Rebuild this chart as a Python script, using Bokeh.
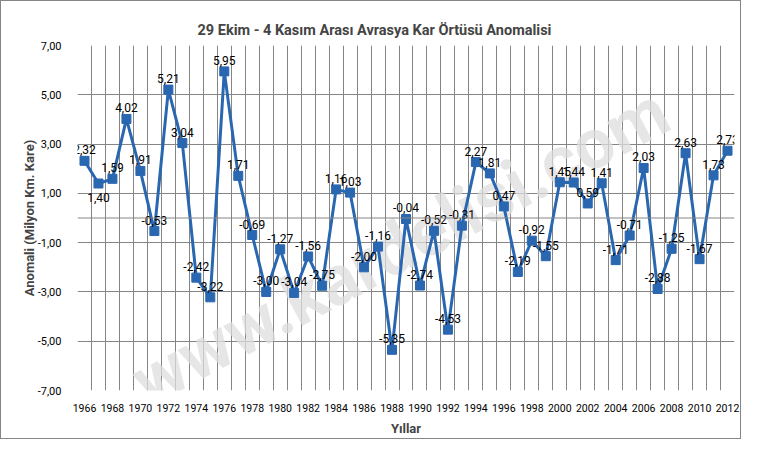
from bokeh.plotting import figure
from bokeh.models import FixedTicker, ColumnDataSource, Span
from bokeh.core.properties import value
from bokeh.embed import file_html
from bokeh.resources import INLINE
import math

title_text = "29 Ekim - 4 Kasım Arası Avrasya Kar Örtüsü Anomalisi"
years = list(range(1966, 2013))
anomaly = [2.32, 1.40, 1.59, 4.02, 1.91, -0.53, 5.21, 3.04, -2.42, -3.22,
           5.95, 1.71, -0.69, -3.00, -1.27, -3.04, -1.56, -2.75, 1.16, 1.03,
           -2.00, -1.16, -5.35, -0.04, -2.74, -0.52, -4.53, -0.31, 2.27, 1.81,
           0.47, -2.19, -0.92, -1.55, 1.45, 1.44, 0.59, 1.41, -1.71, -0.71,
           2.03, -2.88, -1.25, 2.63, -1.67, 1.73, 2.73]
y_ticks = [-7, -5, -3, -1, 1, 3, 5, 7]
y_tick_labels = ["-7,00", "-5,00", "-3,00", "-1,00", "1,00", "3,00", "5,00", "7,00"]
x_tick_years = years[::2]
labels_below = [1967]

FONT = "Roboto"
idx = list(range(len(years)))
lbl = [f"{v:.2f}".replace(".", ",") for v in anomaly]
offs = [14 if y in labels_below else -11 for y in years]
src = ColumnDataSource(dict(x=idx, y=anomaly, lbl=lbl, off=offs))

p = figure(width=741, height=439, output_backend="svg", toolbar_location=None,
           x_range=(-0.5, len(years) - 0.5), y_range=(-7, 7),
           min_border_left=76, min_border_right=8, min_border_top=44, min_border_bottom=50,
           title=title_text)
p.styles = {"border": "1px solid #868686"}
p.title.align = "left"
p.title.offset = 120
p.title.vertical_align = "top"
p.title.standoff = 10
p.title.text_font = FONT
p.title.text_font_size = "14.5px"
p.title.text_font_style = "bold"
p.outline_line_color = None
p.background_fill_color = "white"

# grids
p.xgrid.ticker = FixedTicker(ticks=[i - 0.5 for i in range(len(years) + 1)])
p.ygrid.ticker = FixedTicker(ticks=y_ticks)
for g in (p.xgrid, p.ygrid):
    g.grid_line_color = "#858585"
    g.grid_line_width = 1
p.add_layout(Span(location=0, dimension="width", line_color="#858585", line_width=1))

# axes
p.xaxis.ticker = FixedTicker(ticks=[years.index(y) for y in x_tick_years])
p.xaxis.major_label_overrides = {years.index(y): str(y) for y in x_tick_years}
p.yaxis.ticker = FixedTicker(ticks=y_ticks)
p.yaxis.major_label_overrides = {t: l for t, l in zip(y_ticks, y_tick_labels)}
for ax in (p.xaxis, p.yaxis):
    ax.axis_line_color = None
    ax.major_tick_line_color = None
    ax.minor_tick_line_color = None
    ax.major_label_text_font = FONT
    ax.major_label_text_color = "black"
    ax.axis_label_text_font = FONT
    ax.axis_label_text_font_style = "bold"
    ax.axis_label_text_font_size = "13px"
p.xaxis.major_label_text_font_size = "10.5px"
p.yaxis.major_label_text_font_size = "11px"
p.xaxis.major_label_standoff = 7
p.yaxis.major_label_standoff = 10
p.xaxis.axis_label = "Yıllar"
p.yaxis.axis_label = "Anomali (Milyon Km. Kare)"
p.xaxis.axis_label_standoff = 6
p.yaxis.axis_label_standoff = -2

# watermark
p.text(x=[22.6], y=[-1.15], text=["www.kardelisi.com"], angle=math.radians(28),
       text_font=value(FONT), text_font_size="70px", text_font_style="bold",
       text_color="#dedede", text_alpha=0.75, text_align="center", text_baseline="middle")

p.line("x", "y", source=src, line_color="#2A67B1", line_width=3)
p.scatter("x", "y", source=src, marker="square", size=9, fill_color="#2A67B1", line_color="#2A67B1")
p.text("x", "y", text="lbl", source=src, y_offset="off", text_font=value(FONT),
       text_font_size="12px", text_color="black", text_align="center", text_baseline="middle")

open("out.html", "w").write(file_html(p, INLINE))
